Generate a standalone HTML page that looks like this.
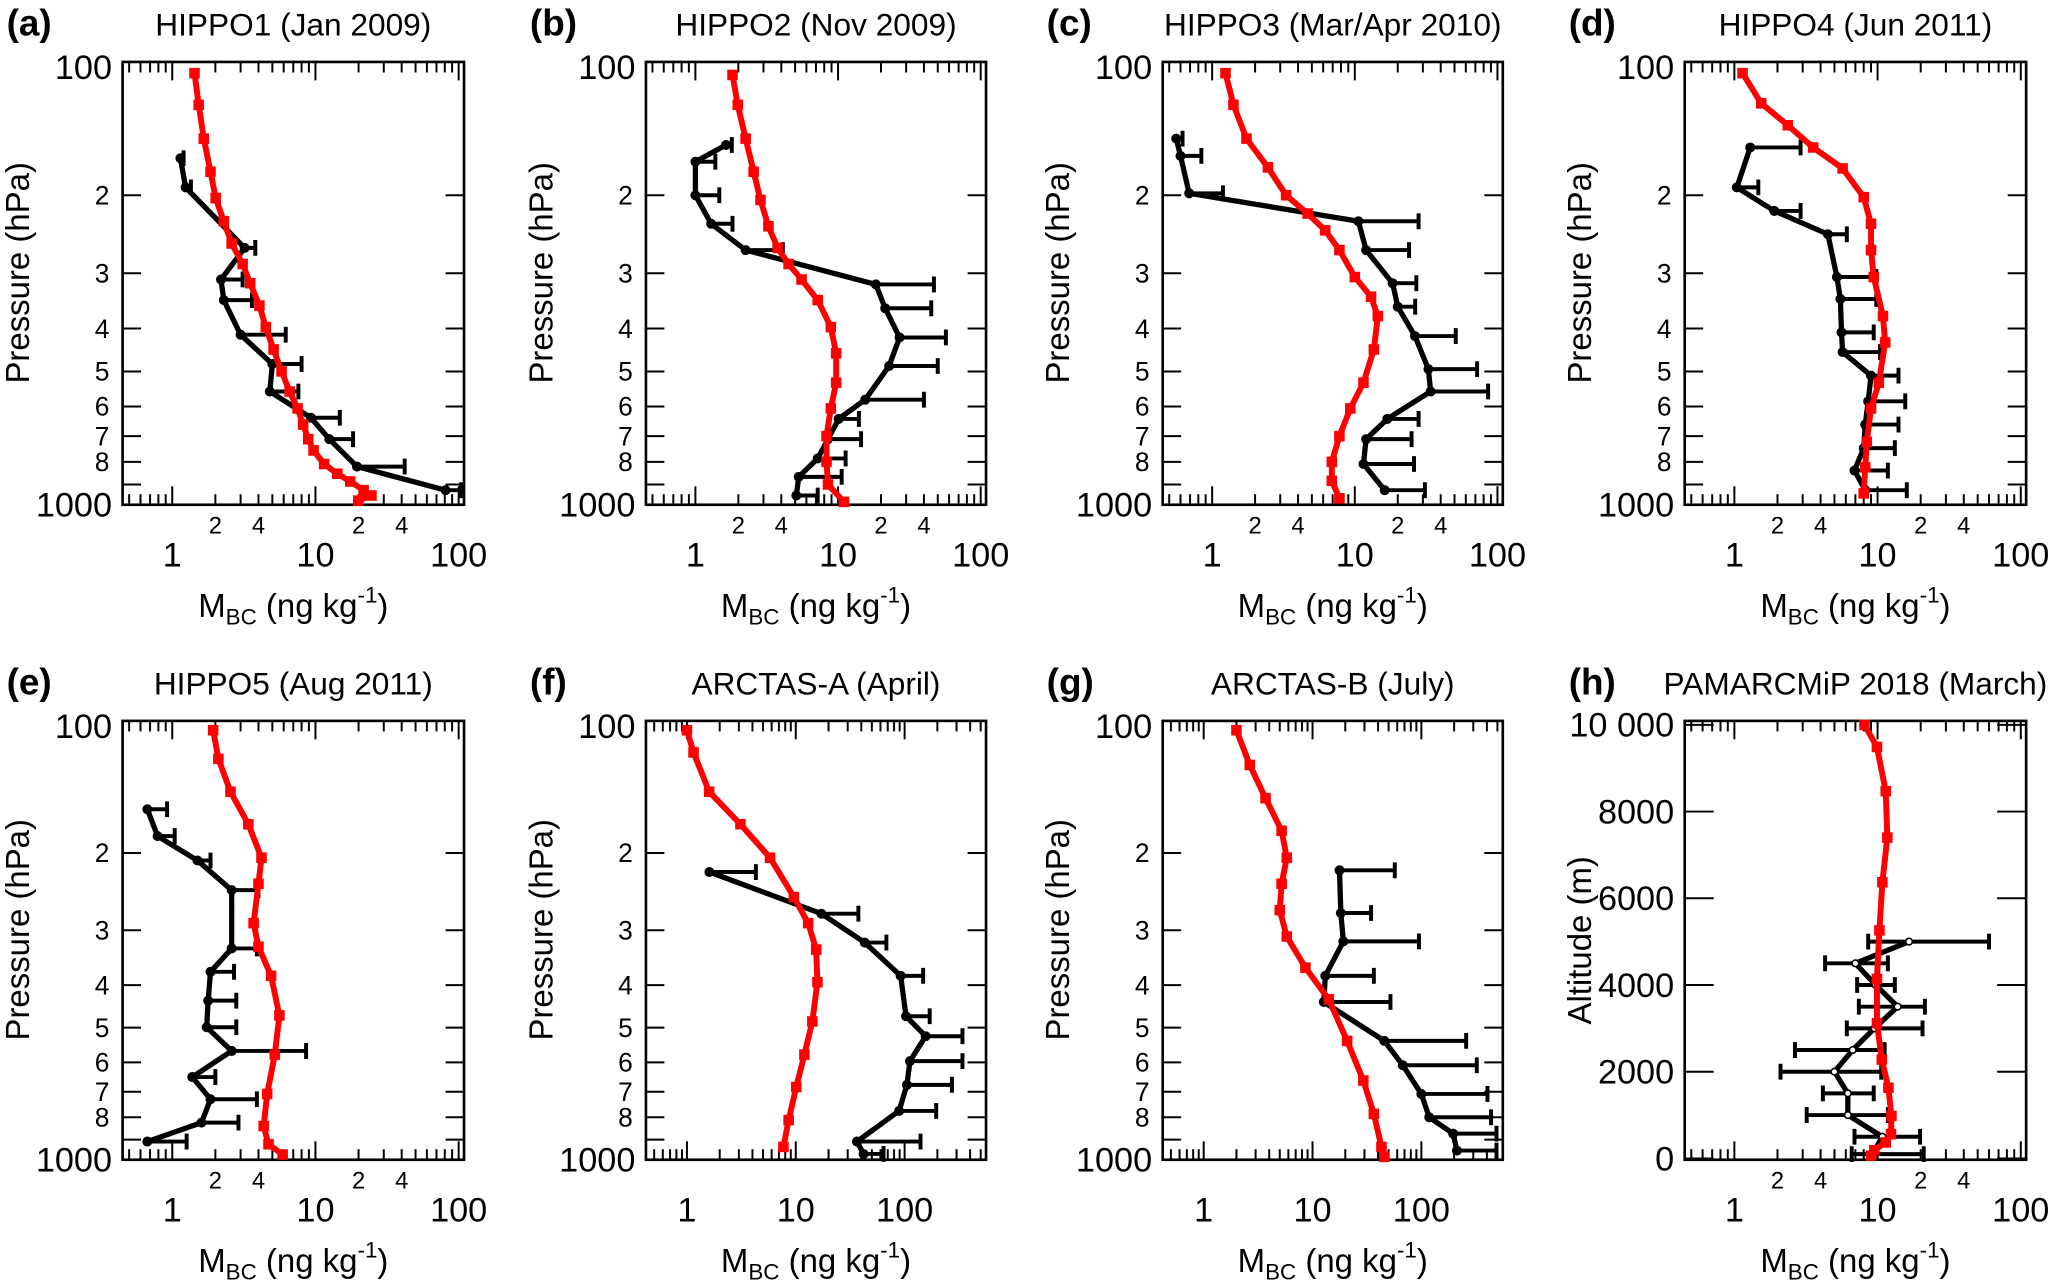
<!DOCTYPE html>
<html><head><meta charset="utf-8"><style>
html,body{margin:0;padding:0;background:#fff;}
svg{display:block;font-family:"Liberation Sans",Arial,sans-serif;}
</style></head><body>
<svg id="fig" width="2067" height="1281" viewBox="0 0 1568 972" preserveAspectRatio="none" xmlns="http://www.w3.org/2000/svg"></svg>
<script>
// ---- data ----
const aBlkP=[165,192,263,310,345,413,481,555,636,711,820,927];
const aBlkV=[1.14,1.24,3.2,2.19,2.29,3.0,5.0,4.8,9.3,12.5,19.5,81];
const aBlkHi=[1.2,1.35,3.8,3.1,3.6,6.2,8.0,7.6,14.8,18.3,42,104];
const aRedP=[106,125,149,177,203,229,257,286,316,355,397,446,500,555,606,659,711,754,809,851,886,927,953,979];
const aRedV=[1.43,1.53,1.66,1.85,2.01,2.29,2.6,3.1,3.5,4.06,4.5,5.1,5.8,6.6,7.5,8.2,8.9,9.7,11.5,14.2,17.5,21.7,24.6,19.9];

const bBlkP=[154,168,200,232,266,318,360,419,486,579,640,711,786,865,953];
const bBlkV=[1.64,1.0,1.0,1.29,2.25,18.4,21.4,27,22.8,15.5,10.1,8.5,7.2,5.3,5.1];
const bBlkHi=[1.8,1.38,1.47,1.82,4.1,47,45,57,50,40,14,14.5,11.3,10.6,7.2];
const bRedP=[107,125,149,177,205,235,263,286,310,345,397,455,530,606,700,800,900,985];
const bRedV=[1.82,1.98,2.25,2.56,2.86,3.25,3.77,4.5,5.55,7.2,8.9,9.7,9.7,8.9,8.3,8.3,8.5,11.0];

const cBlkP=[149,163,198,229,266,316,357,416,494,555,640,711,809,927];
const cBlkV=[0.56,0.6,0.69,10.6,12.0,18.4,20,26.4,32.8,34,16.9,12.0,11.5,16.2];
const cBlkHi=[0.62,0.84,1.19,28,24,27,26.5,51,72,86,28,25,26,31];
const cRedP=[106,125,149,173,200,220,240,266,306,339,375,446,530,606,700,800,883,967];
const cRedV=[1.24,1.41,1.74,2.46,3.3,4.67,6.2,7.8,10,13,14.5,13.6,11.5,9.3,7.8,6.9,6.9,7.8];

const dBlkP=[156,192,217,245,306,343,408,452,511,584,659,745,837,927];
const dBlkV=[1.29,1.04,1.9,4.5,5.2,5.5,5.6,5.7,9.0,8.6,8.2,8.0,6.9,8.2];
const dBlkHi=[2.9,1.47,2.9,6.1,9.8,9.8,9.4,10.4,14,15.6,14,13.2,11.8,16];
const dRedP=[106,124,139,156,174,202,232,266,306,375,430,530,606,721,823,943];
const dRedV=[1.14,1.54,2.36,3.55,5.7,8.0,9.0,9.0,9.4,10.9,11.3,10.2,9.0,8.4,8.2,8.0];

const eBlkP=[159,183,208,243,330,373,434,499,565,648,728,823,909];
const eBlkV=[0.67,0.79,1.5,2.6,2.6,1.85,1.78,1.74,2.6,1.38,1.85,1.6,0.67];
const eBlkHi=[0.92,1.04,1.85,4.0,3.9,2.7,2.8,2.8,8.6,2.0,3.9,2.9,1.26];
const eRedP=[105,122,145,172,205,235,289,327,381,469,576,708,838,922,973];
const eRedV=[1.93,2.1,2.55,3.4,4.2,4.0,3.7,4.0,4.9,5.6,5.2,4.6,4.35,4.7,5.9];

const fBlkP=[221,275,320,381,471,523,596,675,774,909,970];
const fBlkV=[1.61,17.2,43,92,103,156,112,105,89,36.5,42];
const fBlkHi=[4.3,37.6,68,148,170,340,340,272,195,140,64];
const fRedP=[105,118,145,172,205,252,289,332,394,484,576,683,812,935];
const fRedV=[1.0,1.15,1.6,3.1,5.8,9.6,13.0,15.4,15.8,14.2,12.0,10.1,8.6,7.7];

const gBlkP=[219,274,318,381,437,536,609,708,800,872,953];
const gBlkV=[17.7,18.2,19.2,13.1,12.7,45.7,67.5,100,118,196,212];
const gBlkHi=[57,34.5,95,36.6,52,258,323,405,437,490,490];
const gRedP=[105,126,150,178,205,235,270,310,365,431,536,660,786,935,985];
const gRedV=[2.0,2.65,3.7,5.2,5.8,5.2,5.0,5.8,8.6,14.1,20.8,29.3,36.6,43,45.7];

const hBlkAlt=[5000,4500,4000,3500,3000,2500,2000,1500,1000,500,100];
const hBlkV=[16.6,7.0,9.7,13.8,9.5,6.7,5.0,6.2,6.2,10.8,9.2];
const hBlkLo=[8.6,4.3,7.2,7.4,6.1,2.65,2.1,4.15,3.2,6.9,6.6];
const hBlkHi=[60,11.8,13.2,21.4,20.6,11.2,10.6,9.4,11.8,19.8,21];
const hRedAlt=[10000,9490,8470,7400,6370,5260,4140,3120,2280,1630,980,560,370,190,65];
const hRedV=[8.1,9.9,11.4,11.7,10.8,10.3,9.9,9.9,10.7,11.9,12.5,12.4,11.4,9.5,9.0];

const yPressTicks=[200,300,400,500,600,700,800,900];
const yPressLabels=["2","3","4","5","6","7","8",""];
const yAltTicks=[0,2000,4000,6000,8000,10000];
const yAltLabels=["0","2000","4000","6000","8000","10 000"];

// ---- layout ----
const NS="http://www.w3.org/2000/svg";
const svg=document.getElementById('fig');
function mk(tag,at,parent){const e=document.createElementNS(NS,tag);for(const k in at)e.setAttribute(k,at[k]);(parent||svg).appendChild(e);return e;}
function txt(s,at,parent){const e=mk('text',at,parent);e.textContent=s;return e;}

const panels=[
 {id:'a',title:'HIPPO1 (Jan 2009)',L:93,R:352,T:47,B:383,lo:0.45,hi:109,wide:false,bp:aBlkP,bv:aBlkV,bh:aBlkHi,rp:aRedP,rv:aRedV},
 {id:'b',title:'HIPPO2 (Nov 2009)',L:490,R:748,T:47,B:383,lo:0.45,hi:109,wide:false,bp:bBlkP,bv:bBlkV,bh:bBlkHi,rp:bRedP,rv:bRedV},
 {id:'c',title:'HIPPO3 (Mar/Apr 2010)',L:882,R:1140,T:47,B:383,lo:0.45,hi:109,wide:false,bp:cBlkP,bv:cBlkV,bh:cBlkHi,rp:cRedP,rv:cRedV},
 {id:'d',title:'HIPPO4 (Jun 2011)',L:1278,R:1537,T:47,B:383,lo:0.45,hi:109,wide:false,bp:dBlkP,bv:dBlkV,bh:dBlkHi,rp:dRedP,rv:dRedV},
 {id:'e',title:'HIPPO5 (Aug 2011)',L:93,R:352,T:547,B:880,lo:0.45,hi:109,wide:false,bp:eBlkP,bv:eBlkV,bh:eBlkHi,rp:eRedP,rv:eRedV},
 {id:'f',title:'ARCTAS-A (April)',L:490,R:748,T:547,B:880,lo:0.42,hi:560,wide:true,bp:fBlkP,bv:fBlkV,bh:fBlkHi,rp:fRedP,rv:fRedV},
 {id:'g',title:'ARCTAS-B (July)',L:882,R:1140,T:547,B:880,lo:0.42,hi:560,wide:true,bp:gBlkP,bv:gBlkV,bh:gBlkHi,rp:gRedP,rv:gRedV},
 {id:'h',title:'PAMARCMiP 2018 (March)',L:1278,R:1537,T:547,B:880,lo:0.45,hi:109,wide:false,alt:true,bp:hBlkAlt,bv:hBlkV,bl:hBlkLo,bh:hBlkHi,rp:hRedAlt,rv:hRedV}
];

panels.forEach(g=>{
  const G=mk('g',{});
  
  
  const X=v=>g.L+(Math.log10(v)-Math.log10(g.lo))/(Math.log10(g.hi)-Math.log10(g.lo))*(g.R-g.L);
  const Y=g.alt? (a=>(g.B-1)-a/10000*(g.B-4-g.T)) : (p=>g.T+Math.log10(p/100)*(g.B-g.T));
  const pl=txt('('+g.id+')',{x:g.L-88,y:g.T-20,'font-size':28,'font-weight':'bold'},G);
  
  
  const tt=txt(g.title,{x:(g.L+g.R)/2,y:g.T-20,'font-size':24,'text-anchor':'middle'},G);
  
  
  const bx=mk('rect',{x:g.L,y:g.T,width:g.R-g.L,height:g.B-g.T,fill:'none',stroke:'#000','stroke-width':2},G);
  
  
  for(let d=-1;d<=3;d++){for(let m=1;m<=9;m++){const v=m*Math.pow(10,d);if(v<g.lo||v>g.hi)continue;const x=X(v);const len=m===1?14:8;
    mk('line',{x1:x,y1:g.T,x2:x,y2:g.T+len,stroke:'#000','stroke-width':1.5},G);
    mk('line',{x1:x,y1:g.B,x2:x,y2:g.B-len,stroke:'#000','stroke-width':1.5},G);
    if(!g.wide&&(m===2||m===4)&&d>=0&&d<=1){const s=txt(String(m),{x:x,y:g.B+22,'font-size':18,'text-anchor':'middle'},G);}
    if(m===1&&d>=0&&d<=2){const s=txt(String(v),{x:x,y:g.B+47,'font-size':26,'text-anchor':'middle'},G);}
  }}
  if(g.alt){
    yAltTicks.forEach((a,i)=>{const y=Y(a);
      mk('line',{x1:g.L,y1:y,x2:g.L+22,y2:y,stroke:'#000','stroke-width':1.5},G);
      mk('line',{x1:g.R,y1:y,x2:g.R-22,y2:y,stroke:'#000','stroke-width':1.5},G);
      const s=txt(yAltLabels[i],{x:g.L-8,y:y+9,'font-size':26,'text-anchor':'end'},G);
      
      });
  } else {
    yPressTicks.forEach((p,i)=>{const y=Y(p);
      mk('line',{x1:g.L,y1:y,x2:g.L+14,y2:y,stroke:'#000','stroke-width':1.5},G);
      mk('line',{x1:g.R,y1:y,x2:g.R-14,y2:y,stroke:'#000','stroke-width':1.5},G);
      if(yPressLabels[i]){const s=txt(yPressLabels[i],{x:g.L-10,y:y+7,'font-size':20,'text-anchor':'end'},G);
        
        }});
    const s1=txt('100',{x:g.L-8,y:g.T+13,'font-size':26,'text-anchor':'end'},G);
    
    
    const s2=txt('1000',{x:g.L-8,y:g.B+9,'font-size':26,'text-anchor':'end'},G);
    
    
  }
  const xt=txt('',{x:(g.L+g.R)/2,y:g.B+85,'font-size':25,'text-anchor':'middle'},G);
  xt.innerHTML='M<tspan font-size="17" dy="6">BC</tspan><tspan dy="-6"> (ng kg</tspan><tspan font-size="17" dy="-11">-1</tspan><tspan dy="11">)</tspan>';
  
  
  const cy=(g.T+g.B)/2-(g.alt?0:8);
  const yt=txt(g.alt?'Altitude (m)':'Pressure (hPa)',{x:0,y:0,'font-size':25,'text-anchor':'middle',transform:'translate('+(g.L-71)+','+cy+') rotate(-90)'},G);
  
  
  g.bp.forEach((p,i)=>{const y=Y(p);const x0=g.bl?X(g.bl[i]):X(g.bv[i]);const x1=X(g.bh[i]);
    const eb=mk('path',{d:'M'+x0+' '+y+'H'+x1+'M'+x1+' '+(y-6)+'V'+(y+6)+(g.bl?'M'+x0+' '+(y-6)+'V'+(y+6):''),stroke:'#000','stroke-width':3,fill:'none'},G);
    
    });
  const bl=mk('polyline',{points:g.bp.map((p,i)=>X(g.bv[i])+','+Y(p)).join(' '),fill:'none',stroke:'#000','stroke-width':4,'stroke-linejoin':'round'},G);
  
  
  g.bp.forEach((p,i)=>{const c=mk('circle',{cx:X(g.bv[i]),cy:Y(p),r:g.alt?2.5:3.2,fill:g.alt?'#fff':'#000',stroke:'#000','stroke-width':1.2},G);
    
    });
  const rl=mk('polyline',{points:g.rp.map((p,i)=>X(g.rv[i])+','+Y(p)).join(' '),fill:'none',stroke:'#f00','stroke-width':4.5,'stroke-linejoin':'round'},G);
  
  
  g.rp.forEach((p,i)=>{const s=mk('rect',{x:X(g.rv[i])-4,y:Y(p)-4,width:8,height:8,fill:'#f00'},G);
    
    });
});
</script>
</body></html>
